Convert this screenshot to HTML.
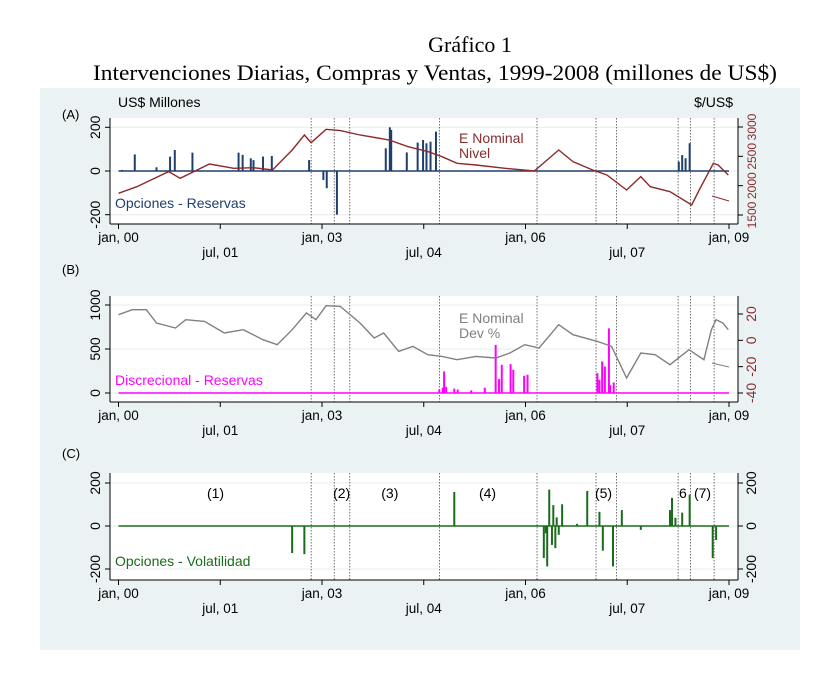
<!DOCTYPE html>
<html><head><meta charset="utf-8">
<style>
body{margin:0;background:#fff;width:832px;height:690px;overflow:hidden;font-family:"Liberation Sans",sans-serif}
svg{display:block}
</style></head>
<body>
<svg id="chart" width="832" height="690" xmlns="http://www.w3.org/2000/svg">
<rect x="40" y="88" width="760" height="562" fill="#eaf2f3"/>
<text x="470" y="52" text-anchor="middle" font-family="Liberation Serif,serif" font-size="22">Gráfico 1</text>
<text x="435" y="80" text-anchor="middle" font-family="Liberation Serif,serif" font-size="22" textLength="684" lengthAdjust="spacingAndGlyphs">Intervenciones Diarias, Compras y Ventas, 1999-2008 (millones de US$)</text>
<g id="plots"></g>
</svg>
<script>
// ---- data (time in years since jan 2000) ----
const xTickPos = [0, 1.5, 3, 4.5, 6, 7.5, 9];
const xTickLabels = ["jan, 00","jul, 01","jan, 03","jul, 04","jan, 06","jul, 07","jan, 09"];
const periodBreaks = [2.84, 3.18, 3.41, 4.73, 6.17, 7.04, 7.34, 8.25, 8.43, 8.78];
const periodLabels = ["(1)","(2)","(3)","(4)","(5)","6","(7)"];
const periodLabelPos = [1.43, 3.29, 4.0, 5.44, 7.15, 8.32, 8.61];

const nivelT = [0,.27,.74,.91,1.34,1.7,1.99,2.27,2.56,2.74,2.84,3.06,3.27,3.56,3.99,4.27,4.56,4.77,4.99,5.27,5.7,6.13,6.49,6.7,6.99,7.2,7.49,7.7,7.84,8.13,8.45,8.56,8.77,8.84,8.99];
const nivelV = [1870,1983,2239,2125,2370,2296,2307,2267,2608,2864,2733,2960,2938,2864,2778,2665,2580,2494,2381,2352,2296,2250,2608,2409,2267,2182,1926,2154,1983,1898,1671,1926,2381,2352,2182];

const devT = [0,.2,.41,.56,.84,.99,1.27,1.56,1.84,2.13,2.34,2.56,2.77,2.91,3.06,3.27,3.56,3.77,3.91,4.13,4.34,4.56,4.77,4.99,5.27,5.56,5.77,5.99,6.2,6.49,6.7,7.06,7.27,7.49,7.7,7.91,8.13,8.41,8.63,8.74,8.81,8.91,8.99];
const devV = [19.5,23.3,23.3,13.2,9.4,15.7,14.4,5.6,8.1,0.5,-3.3,8.1,20.8,15.7,26.3,25.8,13.2,1.8,5.6,-8.4,-4.6,-10.9,-12.2,-14.7,-12.2,-13.4,-9.6,-3.3,-5.8,11.9,4.3,-0.8,-4.6,-28.6,-9.6,-10.9,-18.5,-7.1,-14.7,8.1,15.7,13.2,8.1];

const resT = [0.05,0.24,0.56,0.76,0.83,1.09,1.77,1.83,1.95,1.99,2.13,2.26,2.81,3.02,3.07,3.22,3.94,4.0,4.02,4.25,4.41,4.49,4.54,4.6,4.68,8.26,8.31,8.36,8.42];
const resV = [5,76,17,66,96,84,84,74,58,50,66,69,50,-41,-79,-200,104,200,188,85,130,142,127,134,180,43,73,58,127];

const discT = [4.73,4.78,4.8,4.83,4.95,5.0,5.2,5.4,5.56,5.61,5.65,5.78,5.82,5.98,6.03,7.06,7.09,7.13,7.17,7.23,7.25,7.3];
const discV = [40,60,245,70,50,40,30,60,547,160,320,328,264,196,207,226,150,358,301,735,90,120];

const volT = [2.56,2.74,4.95,6.27,6.3,6.32,6.35,6.39,6.41,6.44,6.46,6.49,6.54,6.76,6.91,7.09,7.14,7.29,7.42,7.7,8.13,8.16,8.21,8.31,8.42,8.76,8.81];
const volV = [-126,-131,158,-149,-34,-188,169,-88,97,-103,40,-41,101,10,163,66,-115,-188,74,-18,74,131,38,62,146,-149,-65];

// ---- layout ----
const X0=110, X1=738, XL=118.5, XR=729;
const xs = t => XL + (XR-XL)*t/9;
const NS="http://www.w3.org/2000/svg";
const root=document.getElementById('plots');
function mk(tag,attrs,parent){const e=document.createElementNS(NS,tag);for(const k in attrs)e.setAttribute(k,attrs[k]);(parent||root).appendChild(e);return e;}
function txt(x,y,s,attrs,parent){const e=mk('text',Object.assign({x:x,y:y,'font-size':13},attrs||{}),parent);e.textContent=s;return e;}

function panel(cfg){
  const g=mk('g',{});
  
  
  const top=cfg.top, bot=cfg.bot;
  const yl=v=>cfg.l0y+(cfg.l1y-cfg.l0y)*(v-cfg.l0)/(cfg.l1-cfg.l0);
  const yr=v=>cfg.r0y+(cfg.r1y-cfg.r0y)*(v-cfg.r0)/(cfg.r1-cfg.r0);
  const bg=mk('rect',{x:X0,y:top,width:X1-X0,height:bot-top,fill:'#fff'},g);
  
  
  cfg.lTicks.forEach(v=>{mk('line',{x1:X0,x2:X1,y1:yl(v),y2:yl(v),stroke:'#e6ecec','stroke-width':1},g);});
  periodBreaks.forEach(t=>{
    const l=mk('line',{x1:xs(t),x2:xs(t),y1:top,y2:bot,stroke:'#333','stroke-width':0.7,'stroke-dasharray':'1.5,1.5'},g);
    
    
  });
  mk('line',{x1:X0,x2:X0,y1:top,y2:bot,stroke:'#000'},g);
  mk('line',{x1:X0,x2:X1,y1:bot,y2:bot,stroke:'#000'},g);
  mk('line',{x1:X1,x2:X1,y1:top,y2:bot,stroke:'#000'},g);
  cfg.lTicks.forEach(v=>{
    mk('line',{x1:X0-5,x2:X0,y1:yl(v),y2:yl(v),stroke:'#000'},g);
    const t=txt(0,0,String(v),{transform:`translate(${X0-10},${yl(v)}) rotate(-90)`,'text-anchor':'middle','font-size':14},g);
    
    
  });
  cfg.rTicks.forEach(v=>{
    mk('line',{x1:X1,x2:X1+5,y1:yr(v),y2:yr(v),stroke:'#000'},g);
    const t=txt(0,0,String(v),{transform:`translate(${X1+18},${yr(v)}) rotate(-90)`,'text-anchor':'middle','font-size':cfg.rFont||14,fill:cfg.rColor},g);
    
    
  });
  xTickPos.forEach((p,i)=>{
    mk('line',{x1:xs(p),x2:xs(p),y1:bot,y2:bot+5,stroke:'#000'},g);
    const t=txt(xs(p),bot+(i%2?33:18),xTickLabels[i],{'text-anchor':'middle','font-size':13.5},g);
    
    
  });
  mk('line',{x1:xs(0),x2:xs(9),y1:yl(0),y2:yl(0),stroke:cfg.barColor,'stroke-width':1.5},g);
  cfg.barT.forEach((t,i)=>{
    const b=mk('line',{x1:xs(t),x2:xs(t),y1:yl(0),y2:yl(cfg.barV[i]),stroke:cfg.barColor,'stroke-width':2},g);
    
    
  });
  if(cfg.lineT){
    const d=cfg.lineT.map((t,i)=>(i?'L':'M')+xs(t).toFixed(1)+','+yr(cfg.lineV[i]).toFixed(1)).join(' ');
    const p=mk('path',{d:d,fill:'none',stroke:cfg.lineColor,'stroke-width':1.4},g);
    
    
  }
  return {g,yl,yr};
}

// Panel A
const A=panel({name:'panel-a',top:118,bot:224,l0:0,l0y:171,l1:200,l1y:127.3,lTicks:[200,0,-200],
  r0:1500,r0y:215,r1:3000,r1y:127,rTicks:[3000,2500,2000,1500],rColor:'#8b2c2c',rFont:12,
  barT:resT,barV:resV,barColor:'#1f3f6e',lineT:nivelT,lineV:nivelV,lineColor:'#8b2c2c'});
mk('line',{x1:712,y1:196,x2:729,y2:201,stroke:'#8b2c2c','stroke-width':1},A.g);
txt(118,107,'US$ Millones',{'font-size':14});
txt(733,107,'$/US$',{'font-size':14,'text-anchor':'end'});
txt(62,119,'(A)',{'font-size':13});
txt(459,143,'E Nominal',{'font-size':14,fill:'#8b2c2c'});
txt(459,158,'Nivel',{'font-size':14,fill:'#8b2c2c'});
txt(115,208,'Opciones - Reservas',{'font-size':14,fill:'#1f3f6e'});

// Panel B
const B=panel({name:'panel-b',top:296,bot:402,l0:0,l0y:393,l1:1000,l1y:305,lTicks:[1000,500,0],
  r0:-40,r0y:393,r1:20,r1y:314,rTicks:[20,0,-20,-40],rColor:'#8b2c2c',
  barT:discT,barV:discV,barColor:'#ff00ff',lineT:devT,lineV:devV,lineColor:'#808080'});
mk('line',{x1:712,y1:363,x2:729,y2:367,stroke:'#808080','stroke-width':1},B.g);
txt(62,274,'(B)',{'font-size':13});
txt(459,323,'E Nominal',{'font-size':14,fill:'#808080'});
txt(459,338,'Dev %',{'font-size':14,fill:'#808080'});
txt(115,385,'Discrecional - Reservas',{'font-size':14,fill:'#ff00ff'});

// Panel C
const C=panel({name:'panel-c',top:473,bot:580,l0:0,l0y:526,l1:200,l1y:483,lTicks:[200,0,-200],
  r0:0,r0y:526,r1:200,r1y:483,rTicks:[200,0,-200],rColor:'#000',
  barT:volT,barV:volV,barColor:'#1a6b1a'});
txt(62,458,'(C)',{'font-size':13});
txt(115,566,'Opciones - Volatilidad',{'font-size':14,fill:'#1a6b1a'});
periodLabels.forEach((s,i)=>{
  const t=txt(xs(periodLabelPos[i]),498,s,{'font-size':14,'text-anchor':'middle'},C.g);
  
  
});
</script>
</body></html>
